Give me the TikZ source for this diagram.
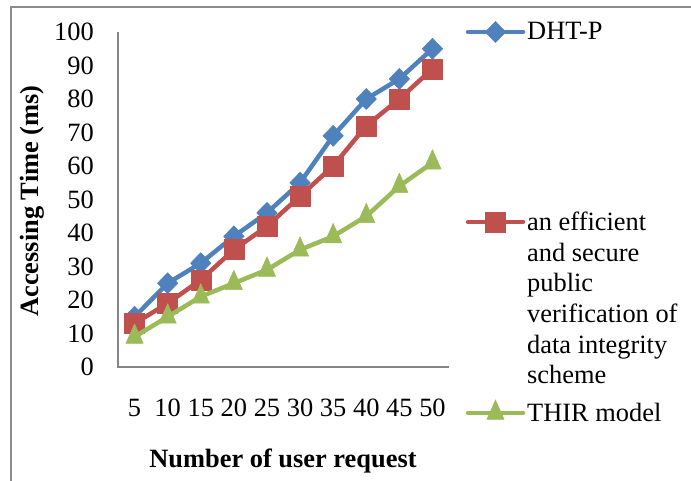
\documentclass[tikz,border=0pt]{standalone}
\usepackage{fontspec}
\setmainfont{Liberation Serif}
\usetikzlibrary{plotmarks}
\definecolor{dhtblue}{HTML}{4F81BD}
\definecolor{effred}{HTML}{C0504D}
\definecolor{thirgreen}{HTML}{9BBB59}
\definecolor{axisgray}{HTML}{868686}
\definecolor{framegray}{HTML}{8C8C8C}
\tikzset{
  series/.style={line width=4.5bp, line join=round, line cap=round},
  lbl/.style={font=\fontsize{26.4bp}{30.6bp}\selectfont, inner sep=0pt},
  title/.style={lbl, font=\fontsize{26.4bp}{30.6bp}\selectfont\bfseries},
  dhtmark/.style={mark=diamond*, mark size=10.5bp, mark options={solid, line width=0.5bp, xscale=1.3}},
  effmark/.style={mark=square*, mark size=10bp, mark options={solid, line width=0.5bp}},
  thirmark/.style={mark=triangle*, mark size=10bp, mark options={solid, line width=0.5bp, yscale=1.3}}
}
\begin{document}
\begin{tikzpicture}[x=1bp, y=1bp]
    \useasboundingbox (0,0) rectangle (691,481);
    \draw[framegray, line width=2bp] (11,-5) -- (11,473.5) -- (700,473.5);
    \draw[axisgray, line width=1.5bp] (118,449) -- (118,114) -- (449,114);
    \foreach \v in {0,10,...,100}
        \node[lbl, anchor=east] (y\v) at (94, {114+3.35*\v}) {\v};
    \foreach \n [count=\i] in {5,10,...,50}
        \node[lbl, anchor=base] (x\n) at ({118+33.1*(\i-0.5)}, 64) {\n};
    \node[title, rotate=90] (ytitle) at (32,280) {Accessing Time (ms)};
    \node[title, anchor=base] (xtitle) at (283,13) {Number of user request};
    \begin{scope}[shift={(118bp,114bp)}, x=33.1bp, y=3.35bp]
        \draw[series, dhtblue, dhtmark] plot coordinates
            {(0.5,15) (1.5,25) (2.5,31) (3.5,39) (4.5,46) (5.5,55) (6.5,69) (7.5,80) (8.5,86) (9.5,95)};
        \draw[series, effred, effmark] plot coordinates
            {(0.5,13) (1.5,19) (2.5,26) (3.5,35) (4.5,42) (5.5,51) (6.5,60) (7.5,72) (8.5,80) (9.5,89)};
        \draw[series, thirgreen, thirmark] plot coordinates
            {(0.5,9) (1.5,15) (2.5,21) (3.5,25) (4.5,29) (5.5,35) (6.5,39) (7.5,45) (8.5,54) (9.5,61)};
    \end{scope}
    \draw[series, dhtblue] (468,449) -- (523,449);
    \path[dhtblue, dhtmark] plot coordinates {(495.5,449)};
    \node[lbl, anchor=base west] (lgdht) at (527,441) {DHT-P};
    \draw[series, effred] (468,259) -- (523,259);
    \path[effred, effmark] plot coordinates {(495.5,259)};
    \node[lbl, anchor=north west, align=left] (lgeff) at (527,269)
        {an efficient\\and secure\\public\\verification of\\data integrity\\scheme};
    \draw[series, thirgreen] (468,68) -- (523,68);
    \path[thirgreen, thirmark] plot coordinates {(495.5,68)};
    \node[lbl, anchor=base west] (lgthir) at (527,59) {THIR model};
\end{tikzpicture}
\end{document}
